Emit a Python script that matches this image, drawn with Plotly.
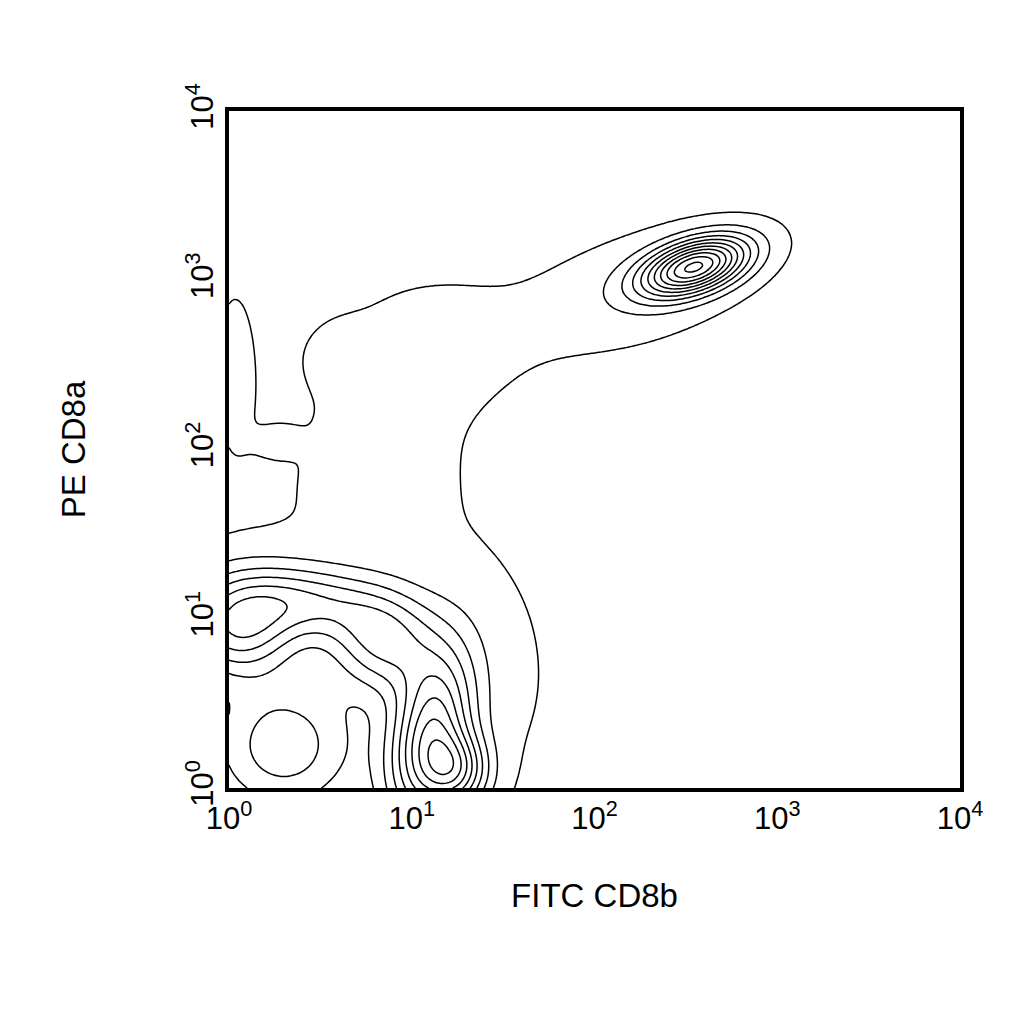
import numpy as np
import plotly.graph_objects as go

# cell populations, in log10 units:
# centre x, centre y, spread x, spread y, correlation, weight
pop_cx = [2.55, 2.25, 1.1, 1.25, 0.05, 0.3, 0.8, 0.62, 0.25, 1.3, 0.03, 0.45, 0.85, 1.5]
pop_cy = [3.08, 2.95, 0.3, 0.1, 0.95, 0.25, 1.8, 2.55, 2.05, 2.7, 2.5, 1.1, 0.85, 0.6]
pop_sx = [0.2, 0.34, 0.16, 0.12, 0.22, 0.25, 0.6, 0.12, 0.08, 0.45, 0.08, 0.3, 0.2, 0.25]
pop_sy = [0.12, 0.22, 0.35, 0.15, 0.2, 0.25, 0.85, 0.12, 0.06, 0.3, 0.35, 0.15, 0.2, 0.5]
pop_rho = [0.45, 0.3, 0.3, 0.0, 0.0, 0.0, 0.1, 0.0, 0.0, 0.0, 0.0, -0.2, 0.0, 0.0]
pop_w = [1.0, 0.1, 0.7, 0.45, 0.5, 0.3, 0.045, 0.04, 0.035, 0.03, 0.05, 0.35, 0.4, 0.04]

contour_start = 0.035
contour_step = 0.1
contour_end = 1.1

tick_vals = [0, 1, 2, 3, 4]
tick_text = ["10<sup>0</sup>", "10<sup>1</sup>", "10<sup>2</sup>", "10<sup>3</sup>", "10<sup>4</sup>"]

gx = np.linspace(0, 4, 260)
gy = np.linspace(0, 4, 260)
X, Y = np.meshgrid(gx, gy)
Z = np.zeros_like(X)
for cx, cy, sx, sy, r, w in zip(pop_cx, pop_cy, pop_sx, pop_sy, pop_rho, pop_w):
    u = (X - cx) / sx
    v = (Y - cy) / sy
    Z += w * np.exp(-(u * u - 2 * r * u * v + v * v) / (2 * (1 - r * r)))

fig = go.Figure(go.Contour(
    x=gx, y=gy, z=Z,
    contours=dict(coloring="none", start=contour_start, end=contour_end, size=contour_step),
    line=dict(color="black", width=1.5),
    showscale=False, hoverinfo="skip",
))

font = "Liberation Sans, Arial, sans-serif"
fig.update_layout(
    width=1024, height=1024,
    margin=dict(l=221, r=72, t=103, b=244),
    plot_bgcolor="white", paper_bgcolor="white",
    font=dict(family=font, color="black", size=31),
    showlegend=False,
)
fig.update_xaxes(range=[0, 4], tickvals=tick_vals, ticktext=tick_text,
                 showgrid=False, zeroline=False, showline=True, mirror=True,
                 linecolor="black", linewidth=4, ticks="",
                 title=dict(text="FITC CD8b", font=dict(size=33), standoff=50))
fig.update_yaxes(range=[0, 4], tickvals=tick_vals, ticktext=tick_text, tickangle=-90,
                 showgrid=False, zeroline=False, showline=True, mirror=True,
                 linecolor="black", linewidth=4, ticks="",
                 title=dict(text="PE CD8a", font=dict(size=33), standoff=85))

fig.write_html("out.html")
